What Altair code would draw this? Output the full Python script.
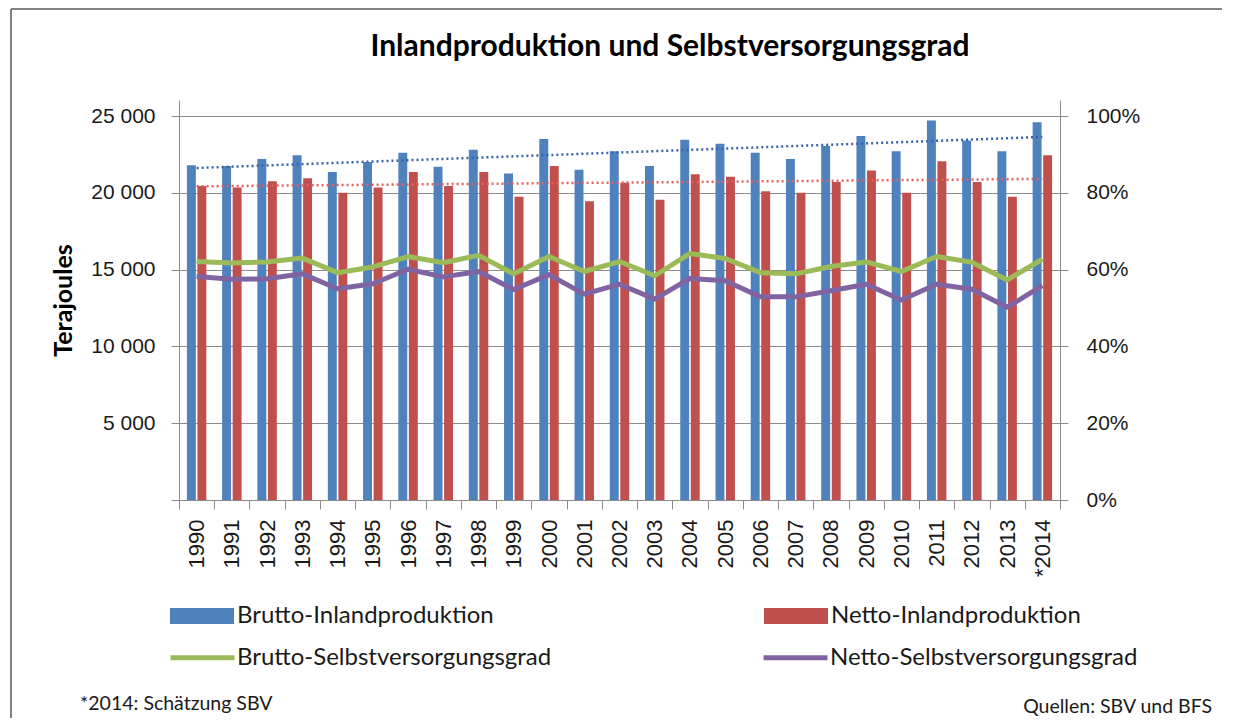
import altair as alt
import pandas as pd

years = ['1990', '1991', '1992', '1993', '1994', '1995', '1996', '1997', '1998', '1999',
         '2000', '2001', '2002', '2003', '2004', '2005', '2006', '2007', '2008', '2009',
         '2010', '2011', '2012', '2013', '*2014']
brutto = [21800, 21750, 22200, 22450, 21350, 22000, 22600, 21700, 22800, 21250,
          23500, 21500, 22700, 21750, 23450, 23200, 22600, 22200, 23050, 23700,
          22700, 24700, 23400, 22700, 24600]
netto = [20450, 20350, 20750, 20950, 20000, 20350, 21350, 20450, 21350, 19750,
         21750, 19450, 20650, 19550, 21200, 21050, 20100, 20000, 20700, 21450,
         20000, 22050, 20700, 19750, 22450]
brutto_pct = [62.1, 61.7, 62.0, 63.0, 59.2, 60.7, 63.4, 61.8, 63.7, 58.9,
              63.4, 59.5, 62.1, 58.4, 64.2, 62.9, 59.2, 58.9, 60.8, 62.0,
              59.5, 63.4, 61.9, 57.3, 62.7]
netto_pct = [58.2, 57.5, 57.6, 58.9, 55.0, 56.3, 60.1, 58.1, 59.5, 54.8,
             58.7, 53.6, 56.2, 52.3, 57.7, 57.1, 52.9, 52.9, 54.5, 56.2,
             52.1, 56.2, 54.9, 50.2, 55.8]

bar_names = ['Brutto-Inlandproduktion', 'Netto-Inlandproduktion']
line_names = ['Brutto-Selbstversorgungsgrad', 'Netto-Selbstversorgungsgrad']
bar_colors = ['#4F81BD', '#C0504D']
line_colors = ['#9BBB59', '#8064A2']
trend_colors = ['#3A62A8', '#E0625E']

title_text = 'Inlandproduktion und Selbstversorgungsgrad'
note_text = '*2014: Schätzung SBV'
source_text = 'Quellen: SBV und BFS'

rows = []
for i, y in enumerate(years):
    rows.append({'year': y, 'idx': i, 'series': bar_names[0], 'value': brutto[i]})
    rows.append({'year': y, 'idx': i, 'series': bar_names[1], 'value': netto[i]})
df_bars = pd.DataFrame(rows)

lrows = []
for i, y in enumerate(years):
    lrows.append({'year': y, 'name': line_names[0], 'pct': brutto_pct[i]})
    lrows.append({'year': y, 'name': line_names[1], 'pct': netto_pct[i]})
df_lines = pd.DataFrame(lrows)

GRAY = '#8C8C8C'
TXT = '#1A1A1A'

x_scale = alt.Scale(domain=years, paddingInner=0, paddingOuter=0)
x_axis = alt.Axis(title=None, labelAngle=270, labelAlign='right', labelBaseline='middle',
                  labelFont='Liberation Sans', labelFontSize=22, labelColor=TXT,
                  labelPadding=10, tickSize=9, tickColor=GRAY, domainColor=GRAY,
                  tickBand='extent', grid=False, labelOverlap=False)

left_scale = alt.Scale(domain=[0, 26041.7], nice=False, zero=True)
left_axis = alt.Axis(title='Terajoules', values=[0, 5000, 10000, 15000, 20000, 25000],
                     labelExpr="datum.value == 0 ? '' : replace(format(datum.value, ','), ',', ' ')",
                     labelFont='Liberation Sans', labelFontSize=21, labelColor=TXT,
                     labelPadding=16, tickSize=8, tickColor=GRAY, domainColor=GRAY,
                     grid=True, gridColor=GRAY, gridWidth=1,
                     titleFont='Lato', titleFontWeight='bold', titleFontSize=25, titleColor='#000000',
                     titleX=-116, titleY=200, titleAngle=270, titleAlign='center',
                     titleBaseline='middle')

right_scale = alt.Scale(domain=[0, 104.167], nice=False, zero=True)
right_axis = alt.Axis(orient='right', title=None, values=[0, 20, 40, 60, 80, 100],
                      labelExpr="datum.value + '%'",
                      labelFont='Liberation Sans', labelFontSize=21, labelColor=TXT,
                      labelPadding=18, tickSize=8, tickColor=GRAY, domainColor=GRAY,
                      grid=False)

bars = alt.Chart(df_bars).mark_bar().encode(
    x=alt.X('year:N', sort=years, scale=x_scale, axis=x_axis),
    xOffset=alt.XOffset('series:N', sort=bar_names,
                        scale=alt.Scale(domain=bar_names, paddingInner=0.15, paddingOuter=0.75)),
    y=alt.Y('value:Q', scale=left_scale, axis=left_axis),
    fill=alt.Fill('series:N', sort=bar_names,
                  scale=alt.Scale(domain=bar_names, range=bar_colors),
                  legend=alt.Legend(title=None, orient='none', legendX=-9, legendY=484,
                                    columns=2, columnPadding=270, labelLimit=0,
                                    symbolType='M-1,-0.25H1V0.25H-1Z', symbolSize=4096,
                                    symbolStrokeWidth=0, labelFont='Lato', labelFontSize=24,
                                    labelColor=TXT, labelOffset=3, padding=0, rowPadding=0)),
)

js_years = '[' + ','.join("'" + y + "'" for y in years) + ']'


def trend(name, color):
    return alt.Chart(df_bars).transform_filter(
        alt.datum.series == name
    ).transform_regression('idx', 'value').transform_calculate(
        year=js_years + '[round(datum.idx)]'
    ).mark_line(strokeDash=[2, 3], strokeWidth=2.5, color=color).encode(
        x=alt.X('year:N', sort=years, scale=x_scale, axis=x_axis),
        y=alt.Y('value:Q', scale=left_scale, axis=left_axis),
    )


trend_b = trend(bar_names[0], trend_colors[0])
trend_n = trend(bar_names[1], trend_colors[1])

one = alt.Data(values=[{}])
border_top = alt.Chart(one).mark_rule(color='#595959', strokeWidth=1.5).encode(
    x=alt.value(-168), x2=alt.value(1060), y=alt.value(-91))
border_left = alt.Chart(one).mark_rule(color='#595959', strokeWidth=1.5).encode(
    x=alt.value(-168), y=alt.value(-91), y2=alt.value(625))

title_mark = alt.Chart(one).mark_text(font='Lato', fontWeight='bold', fontSize=30,
                                      color='#000000', align='center',
                                      baseline='alphabetic').encode(
    x=alt.value(491), y=alt.value(-44), text=alt.value(title_text))
note_mark = alt.Chart(one).mark_text(font='Lato', fontSize=19.5, color=TXT, align='left',
                                     baseline='alphabetic').encode(
    x=alt.value(-99), y=alt.value(610), text=alt.value(note_text))
source_mark = alt.Chart(one).mark_text(font='Lato', fontSize=19.5, color=TXT, align='right',
                                       baseline='alphabetic').encode(
    x=alt.value(1033), y=alt.value(613), text=alt.value(source_text))

lines = alt.Chart(df_lines).mark_line(strokeWidth=5, strokeJoin='round').encode(
    x=alt.X('year:N', sort=years, scale=x_scale, axis=x_axis),
    y=alt.Y('pct:Q', scale=right_scale, axis=right_axis),
    stroke=alt.Stroke('name:N', sort=line_names,
                      scale=alt.Scale(domain=line_names, range=line_colors),
                      legend=alt.Legend(title=None, orient='none', legendX=-11, legendY=523,
                                        columns=2, columnPadding=201, labelLimit=0,
                                        symbolType='stroke', symbolSize=4096,
                                        symbolStrokeWidth=5, labelFont='Lato', labelFontSize=24,
                                        labelColor=TXT, labelOffset=0, padding=0, rowPadding=0)),
    detail='name:N',
)

left = alt.layer(bars, trend_b, trend_n, border_top, border_left, title_mark, note_mark, source_mark)
chart = alt.layer(left, lines).resolve_scale(y='independent').properties(
    width=881, height=400,
    padding={'left': 171, 'top': 92, 'right': 162, 'bottom': 218},
    autosize=alt.AutoSizeParams(type='none'),
).configure_view(strokeWidth=0)

chart.save('out.html', embed_options={'renderer': 'svg', 'actions': False})
